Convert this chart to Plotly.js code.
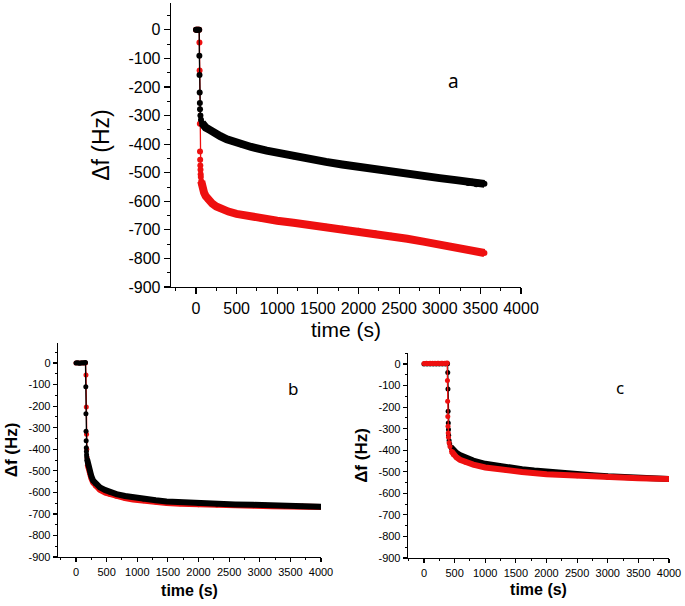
<!DOCTYPE html>
<html>
<head>
<meta charset="utf-8">
<script src="https://cdn.plot.ly/plotly-3.0.1.min.js"></script>
<style>html,body{margin:0;padding:0;background:#fff;}#chart{width:685px;height:606px;}</style>
</head>
<body>
<div id="chart"></div>
<script>
// ---------- data ----------
// Panel a
const aBlackT = [0,10,20,30,40,42,44,46,48,50,55,62,75,90,120,170,230,300,380,460,560,680,870,1000,1200,1400,1600,1800,2000,2200,2400,2600,2800,3000,3200,3300,3350,3400,3450,3480,3520,3550];
const aBlackF = [0,0,0,0,0,-91,-158,-219,-256,-278,-300,-315,-326,-333,-342,-350,-362,-372,-383,-392,-401,-410,-423,-431,-442,-452,-462,-471,-480,-488,-496,-504,-512,-519,-526,-529,-536,-532,-540,-535,-537,-539];
const aRedT = [0,10,20,30,40,43,45,48,50,52,54,56,58,60,65,70,80,90,100,120,150,200,250,300,400,500,600,800,1000,1200,1400,1600,1800,2000,2200,2400,2600,2800,3000,3200,3400,3550];
const aRedF = [0,0,0,0,0,-44,-142,-329,-426,-455,-475,-490,-505,-515,-530,-540,-552,-562,-570,-582,-594,-608,-618,-625,-636,-644,-650,-660,-668,-675,-682,-689,-696,-703,-712,-721,-731,-741,-751,-761,-772,-781];
// Panel b
const bBlackT = [0,20,40,60,80,100,120,140,155,160,162,164,166,168,170,173,176,180,190,200,220,250,280,320,390,480,560,660,800,930,1100,1300,1480,1700,2000,2300,2600,2900,3100,3400,3700,4000];
const bBlackF = [0,1,0,-1,0,1,0,1,2,-110,-235,-316,-360,-393,-410,-425,-435,-445,-462,-476,-500,-525,-546,-560,-577,-590,-599,-608,-617,-624,-631,-637,-642,-646,-651,-654,-656,-658,-660,-662,-665,-667];
const bRedT = [0,40,80,120,155,163,168,172,176,180,190,200,220,250,280,320,390,480,560,660,800,930,1100,1300,1480,1700,2000,2300,2600,2900,3200,3500,3800,4000];
const bRedF = [0,0,0,0,0,-56,-204,-330,-400,-440,-470,-485,-510,-535,-555,-570,-588,-602,-610,-618,-627,-633,-639,-645,-649,-653,-657,-659,-661,-662,-664,-665,-667,-668];
// Panel c
const cBlackT = [0,50,100,150,200,250,300,350,385,388,391,394,397,400,403,410,420,440,478,530,587,680,804,1000,1170,1348,1600,1800,2000,2250,2500,2750,3000,3250,3500,3750,4000];
const cBlackF = [0,0,0,0,0,0,0,0,1,-39,-116,-219,-274,-304,-330,-355,-370,-385,-400,-412,-422,-434,-448,-463,-472,-480,-488,-494,-500,-506,-511,-516,-521,-525,-528,-531,-533];
const cRedT = [0,20,40,60,80,100,120,140,160,180,200,220,240,260,280,300,320,340,360,380,383,386,389,392,396,400,410,424,450,478,530,587,680,804,1000,1348,1600,2000,2500,3000,3500,4000];
const cRedF = [2,2,3,2,2,3,2,3,2,3,2,3,3,2,3,3,2,3,4,5,-76,-173,-243,-289,-320,-340,-365,-383,-405,-420,-433,-444,-456,-467,-480,-494,-501,-511,-519,-526,-530,-534];

// axis tick labels
const yTickVals = [0,-100,-200,-300,-400,-500,-600,-700,-800,-900];
const yTickText = ["0","-100","-200","-300","-400","-500","-600","-700","-800","-900"];
const xTickVals = [0,500,1000,1500,2000,2500,3000,3500,4000];
const xTickText = ["0","500","1000","1500","2000","2500","3000","3500","4000"];

// ---------- styling ----------
const RED = '#ee1010', BLACK = '#000000';
const FONT = 'Liberation Sans, Arial, sans-serif';

function series(t, f, color, xa, ya, knee, msize, band) {
  return [
    {x: t, y: f, xaxis: xa, yaxis: ya, type: 'scatter', mode: 'lines+markers',
     line: {color: color, width: 1.3}, marker: {color: color, size: msize}, hoverinfo: 'skip'},
    {x: t.slice(knee), y: f.slice(knee), xaxis: xa, yaxis: ya, type: 'scatter', mode: 'lines',
     line: {color: color, width: band}, hoverinfo: 'skip'}
  ];
}

const traces = [].concat(
  series(aRedT, aRedF, RED, 'x', 'y', 14, 6, 8),
  series(aBlackT, aBlackF, BLACK, 'x', 'y', 12, 6, 8),
  series(bRedT, bRedF, RED, 'x2', 'y2', 10, 5, 6),
  series(bBlackT, bBlackF, BLACK, 'x2', 'y2', 17, 5, 6),
  series(cBlackT, cBlackF, BLACK, 'x3', 'y3', 17, 5, 6),
  series(cRedT, cRedF, RED, 'x3', 'y3', 28, 5, 6)
);

function xax(domain, range, anchor, fs, tl, title, tfs, bold, standoff) {
  return {domain: domain, range: range, anchor: anchor, showline: true, linecolor: '#000', linewidth: 1.3,
    ticks: 'outside', ticklen: tl, tickwidth: 1.2, tickcolor: '#000',
    tickvals: xTickVals, ticktext: xTickText,
    minor: {tickmode: 'linear', tick0: 250, dtick: 500, ticks: 'outside', ticklen: Math.max(2, Math.round(tl/2)), tickwidth: 1, tickcolor: '#000', showgrid: false},
    showgrid: false, zeroline: false, tickfont: {family: FONT, size: fs, color: '#000'},
    title: {text: bold ? '<b>' + title + '</b>' : title, font: {family: FONT, size: tfs, color: '#000'}, standoff: standoff},
    automargin: false};
}
function yax(domain, range, anchor, fs, tl, title, tfs, bold, standoff) {
  return {domain: domain, range: range, anchor: anchor, showline: true, linecolor: '#000', linewidth: 1.3,
    ticks: 'outside', ticklen: tl, tickwidth: 1.2, tickcolor: '#000',
    tickvals: yTickVals, ticktext: yTickText,
    minor: {tickmode: 'linear', tick0: 50, dtick: 100, ticks: 'outside', ticklen: Math.max(2, Math.round(tl/2)), tickwidth: 1, tickcolor: '#000', showgrid: false},
    showgrid: false, zeroline: false, tickfont: {family: FONT, size: fs, color: '#000'},
    title: {text: bold ? '<b>' + title + '</b>' : title, font: {family: FONT, size: tfs, color: '#000'}, standoff: standoff},
    automargin: false};
}

const W = 685, H = 606;
const layout = {
  width: W, height: H, margin: {l: 0, r: 0, t: 0, b: 0},
  paper_bgcolor: '#fff', plot_bgcolor: '#fff', showlegend: false,
  xaxis: xax([171/W, 521/W], [-307, 4000], 'y', 16, 6, 'time (s)', 21, false, 6),
  yaxis: yax([1-287/H, 1-3/H], [-900, 94], 'x', 16, 6, 'Δf (Hz)', 23, false, 12),
  xaxis2: xax([58/W, 321/W], [-294, 4000], 'y2', 11, 4, 'time (s)', 16, true, 8),
  yaxis2: yax([1-557/H, 1-343/H], [-900, 93], 'x2', 11, 4, 'Δf (Hz)', 17, true, 6),
  xaxis3: xax([408/W, 669/W], [-261, 4000], 'y3', 11, 4, 'time (s)', 16, true, 6),
  yaxis3: yax([1-558/H, 1-353/H], [-900, 51], 'x3', 11, 4, 'Δf (Hz)', 17, true, 6),
  annotations: [
    {text: 'a', xref: 'paper', yref: 'paper', x: 461/W, y: 1-66/H, showarrow: false, font: {family: 'Noto Sans, sans-serif', size: 19, color: '#000'}},
    {text: 'b', xref: 'paper', yref: 'paper', x: 293/W, y: 1-388/H, showarrow: false, font: {family: 'Noto Sans, sans-serif', size: 17, color: '#000'}},
    {text: 'c', xref: 'paper', yref: 'paper', x: 626/W, y: 1-387/H, showarrow: false, font: {family: 'Noto Sans, sans-serif', size: 17, color: '#000'}}
  ]
};

Plotly.newPlot('chart', traces, layout, {displayModeBar: false, staticPlot: true});
</script>
</body>
</html>
